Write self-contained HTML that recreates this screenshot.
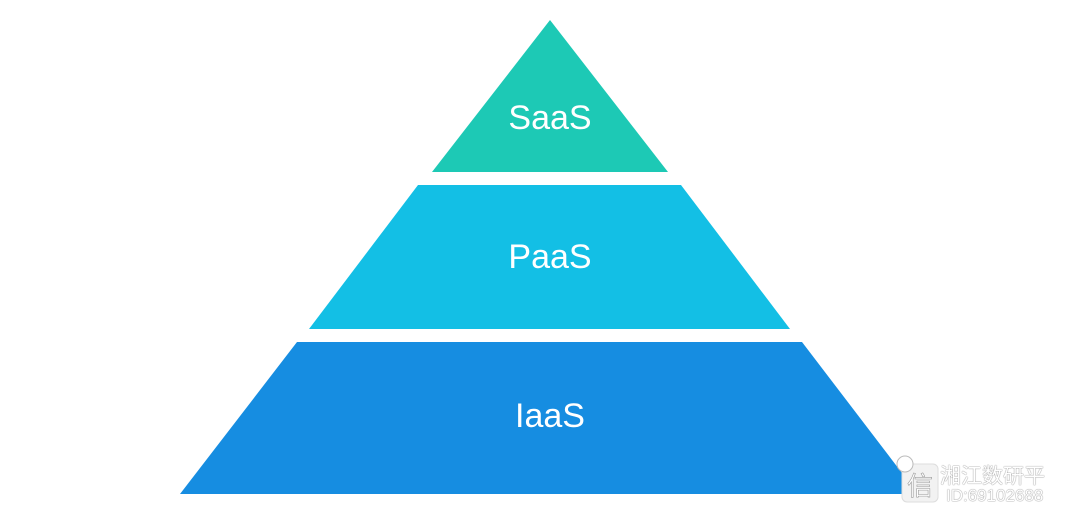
<!DOCTYPE html>
<html><head><meta charset="utf-8"><style>
html,body{margin:0;padding:0;background:#fff;}
body{width:1080px;height:522px;overflow:hidden;position:relative;}
svg{position:absolute;left:0;top:0;}
.wm{position:absolute;font-family:"Liberation Sans","Noto Sans CJK SC",sans-serif;color:#fff;text-shadow:0 0 1px #888,0 0 1px #888;}
</style></head><body>
<svg width="1080" height="522" viewBox="0 0 1080 522">
<polygon points="550,20 668,172 432,172" fill="#1dc9b5"/>
<polygon points="418,185 681,185 790,329 309,329" fill="#13bfe5"/>
<polygon points="297,342 802,342 918,494 180,494" fill="#168de1"/>
<g font-family="'Liberation Sans','DejaVu Sans',sans-serif" font-size="34" fill="#fff" text-anchor="middle">
<text x="550" y="129">SaaS</text>
<text x="550" y="268">PaaS</text>
<text x="550" y="427">IaaS</text>
</g>
<rect x="902" y="464" width="36" height="38" rx="5" fill="#f2f2f2" stroke="#ddd"/>
<circle cx="905" cy="464" r="8" fill="#fff" stroke="#bbb"/>
<text x="920" y="495" font-family="'Liberation Sans',sans-serif" font-size="26" fill="#fff" stroke="#999" stroke-width="0.6" text-anchor="middle">信</text>
</svg>
<div class="wm" style="left:940px;top:460px;font-size:21px;">湘江数研平</div>
<div class="wm" style="left:946px;top:486px;font-size:17px;">ID:69102688</div>
</body></html>
